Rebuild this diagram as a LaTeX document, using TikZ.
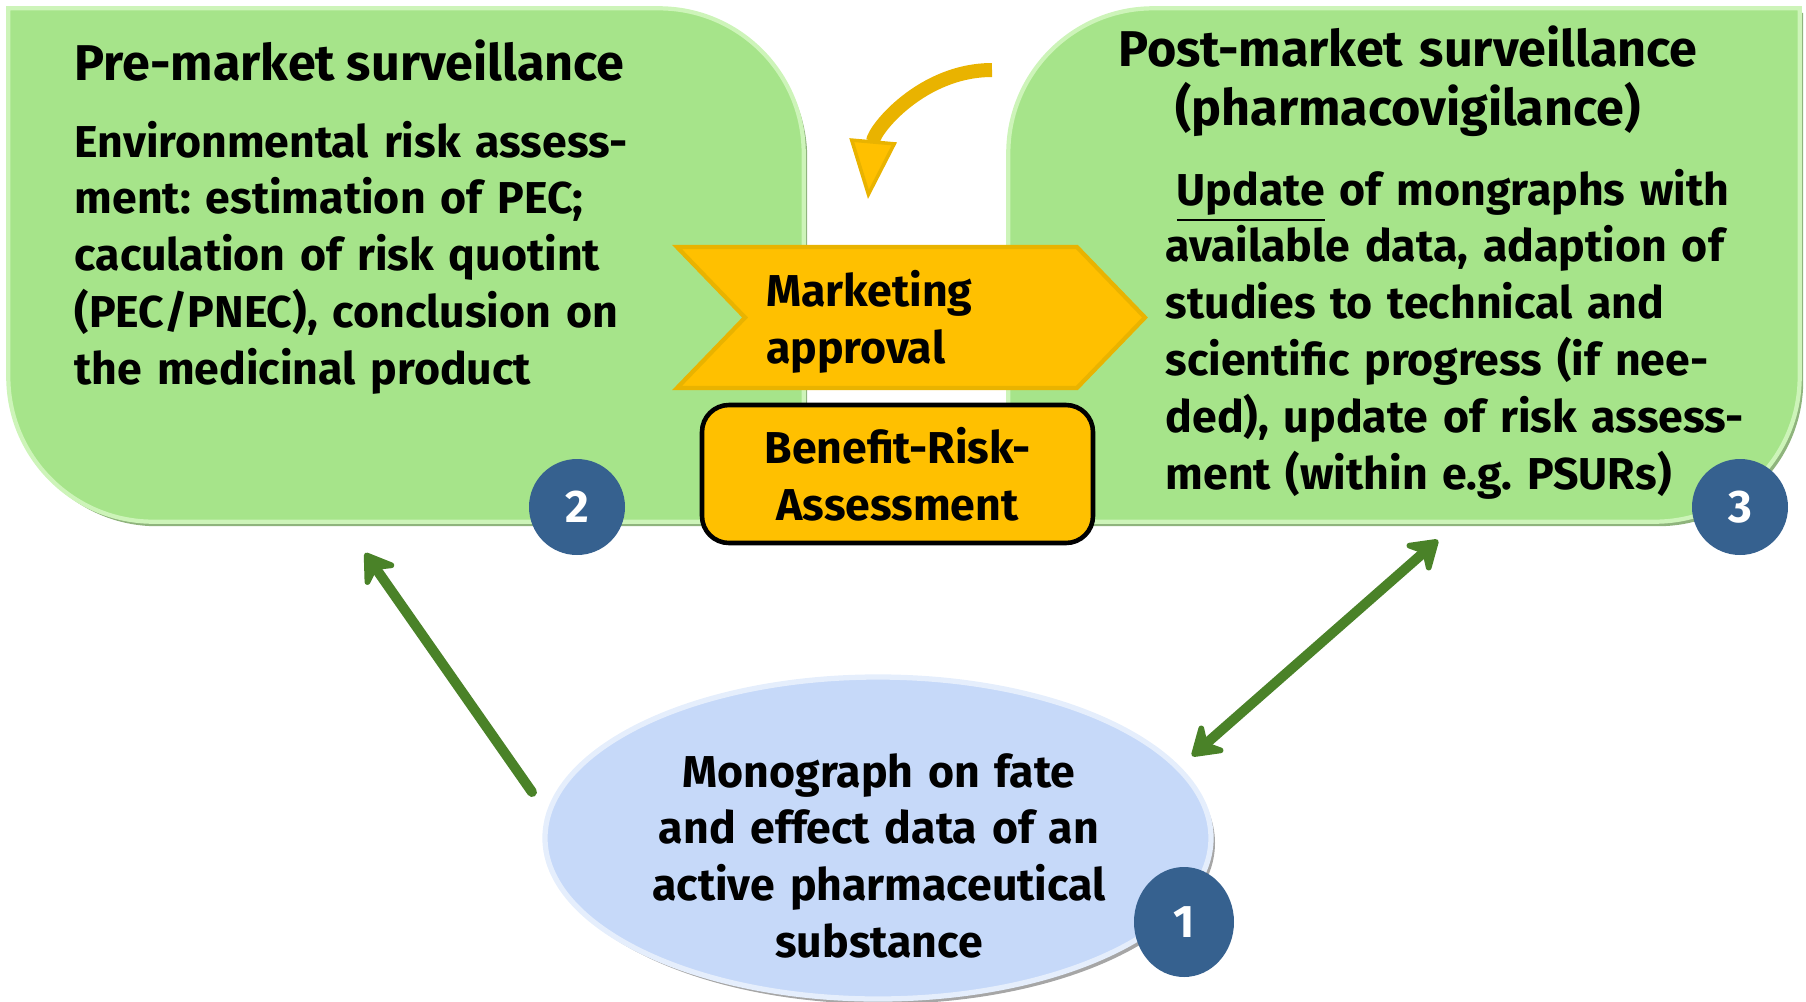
\documentclass[tikz,border=0pt]{standalone}
\usepackage{fontspec}
\setmainfont{Fira Sans}
\usetikzlibrary{arrows.meta,shapes.geometric,shapes.symbols,shadows}

\definecolor{boxgreen}{RGB}{166,228,138}
\definecolor{rimgreen}{RGB}{205,244,185}
\definecolor{shadegreen}{RGB}{96,148,70}
\definecolor{gold}{RGB}{255,192,0}
\definecolor{darkgold}{RGB}{233,179,0}
\definecolor{badgeblue}{RGB}{54,97,143}
\definecolor{paleblue}{RGB}{198,217,249}
\definecolor{arrowgreen}{RGB}{74,130,40}

\def\rad{1.45cm}
% outlines of the two green panels (diagonal corners rounded)
\newcommand{\preoutline}[1]{(#1.north west) -- ([xshift=-\rad]#1.north east) arc[start angle=90,end angle=0,radius=\rad] -- (#1.south east) -- ([xshift=\rad]#1.south west) arc[start angle=270,end angle=180,radius=\rad] -- cycle}
\newcommand{\postoutline}[1]{([yshift=-\rad]#1.north west) arc[start angle=180,end angle=90,radius=\rad] -- (#1.north east) -- ([yshift=\rad]#1.south east) arc[start angle=0,end angle=-90,radius=\rad] -- (#1.south west) -- cycle}

\begin{document}
\frenchspacing
\begin{tikzpicture}
    \tikzstyle{area}=[rectangle,inner sep=0pt,minimum height=5.12cm]
    \tikzstyle{greenfill}=[fill=boxgreen,draw=rimgreen,line width=1.2pt]
    \tikzstyle{greenshade}=[fill=shadegreen,opacity=0.7,transform canvas={shift={(0.035,-0.045)}}]
    \tikzstyle{txt}=[inner sep=0pt,font=\bfseries\fontsize{12.7}{16.2}\selectfont]
    \tikzstyle{head}=[inner sep=0pt,font=\bfseries\fontsize{14.3}{16.5}\selectfont]
    \tikzstyle{badge}=[circle,fill=badgeblue,text=white,minimum size=0.96cm,inner sep=0pt,font=\bfseries\fontsize{13}{13}\selectfont]
    \tikzstyle{grarrow}=[draw=arrowgreen,line width=2.85pt,line cap=round]

    \useasboundingbox (0,0) rectangle (18.06,-10.01);

    %%%%%%%%%%%%%%%%%%%%%%%%%%%%%%%%%%%%%%%%%%%%
    %%% THE TWO PANELS
    %%%%%%%%%%%%%%%%%%%%%%%%%%%%%%%%%%%%%%%%%%%%
    \node[area,minimum width=7.94cm] (pre) at (4.06,-2.65) {};
    \node[area,minimum width=7.90cm] (post) at (14.04,-2.65) {};

    \path[greenshade] \preoutline{pre};
    \path[greenfill] \preoutline{pre};
    \path[greenshade] \postoutline{post};
    \path[greenfill] \postoutline{post};

    \node[head,anchor=base west] (pre-title) at (0.74,-0.80) {Pre-market surveillance};
    \node[txt,anchor=base west,text width=6.6cm,align=left] (pre-text) at (0.74,-1.57)
        {Environmental risk assess-\\ment: estimation of PEC;\\caculation of risk quotint\\(PEC/PNEC), conclusion on\\the medicinal product};

    \node[head,anchor=base,text width=7cm,align=center] (post-title) at (14.08,-0.66)
        {Post-market surveillance\\[0.4pt](pharmacovigilance)};
    \node[txt,anchor=base west,text width=6.6cm,align=left] (post-text) at (11.65,-2.05)
        {\hspace{0.25em}\underline{Update} of mongraphs with\\available data, adaption of\\studies to technical and\\scientific progress (if nee-\\ded), update of risk assess-\\ment (within e.g. PSURs)};

    %%%%%%%%%%%%%%%%%%%%%%%%%%%%%%%%%%%%%%%%%%%%
    %%% APPROVAL IN THE MIDDLE
    %%%%%%%%%%%%%%%%%%%%%%%%%%%%%%%%%%%%%%%%%%%%
    \coordinate (curl-start) at (9.92,-0.70);
    \coordinate (curl-end) at (8.68,-1.99);
    \draw[darkgold,line width=0.14cm,-{Triangle[length=0.59cm,width=0.47cm,fill=gold,line width=1pt]}]
        (curl-start) to[out=180,in=85] (curl-end);

    \node[txt,signal,signal from=west,signal to=east,signal pointer angle=92,
          fill=gold,draw=darkgold,line width=1.2pt,minimum width=4.68cm,minimum height=1.41cm,
          text width=2.9cm,text height=13pt,align=left] (approval) at (9.11,-3.175) {Marketing\\approval};

    \node[txt,rectangle,rounded corners=0.27cm,fill=gold,draw=black,line width=1.3pt,
          minimum width=3.91cm,minimum height=1.38cm,align=center] (benefit) at (8.975,-4.74)
        {Benefit-Risk-\\Assessment};

    %%%%%%%%%%%%%%%%%%%%%%%%%%%%%%%%%%%%%%%%%%%%
    %%% THE MONOGRAPH
    %%%%%%%%%%%%%%%%%%%%%%%%%%%%%%%%%%%%%%%%%%%%
    \node[ellipse,fill=paleblue,draw=white!55!paleblue,line width=1.5pt,
          minimum width=6.66cm,minimum height=3.22cm,
          drop shadow={shadow xshift=0.04cm,shadow yshift=-0.05cm,fill=black,opacity=0.35}] (mono) at (8.78,-8.38) {};
    \node[txt,anchor=base,text width=5.5cm,align=center] (mono-text) at (8.79,-7.87)
        {Monograph on fate\\and effect data of an\\active pharmaceutical\\substance};

    \foreach \num/\x/\y in {2/5.77/-5.07, 3/17.40/-5.07}
        \node[badge] (badge-\num) at (\x,\y) {\num};
    \node[badge,ellipse,minimum width=1.0cm,minimum height=1.1cm] (badge-1) at (11.84,-9.22) {1};

    %%%%%%%%%%%%%%%%%%%%%%%%%%%%%%%%%%%%%%%%%%%%
    %%% GREEN ARROWS
    %%%%%%%%%%%%%%%%%%%%%%%%%%%%%%%%%%%%%%%%%%%%
    \coordinate (mono-l) at (5.32,-7.92);
    \coordinate (pre-tip) at (3.65,-5.53);
    \coordinate (mono-r) at (11.92,-7.56);
    \coordinate (post-tip) at (14.38,-5.40);

    \draw[grarrow,-{Stealth[length=10pt,width=13pt,inset=3.5pt,round]}] (mono-l) -- (pre-tip);
    \draw[grarrow,{Stealth[length=10pt,width=13pt,inset=3.5pt,round]}-{Stealth[length=10pt,width=13pt,inset=3.5pt,round]}] (mono-r) -- (post-tip);
\end{tikzpicture}
\end{document}
